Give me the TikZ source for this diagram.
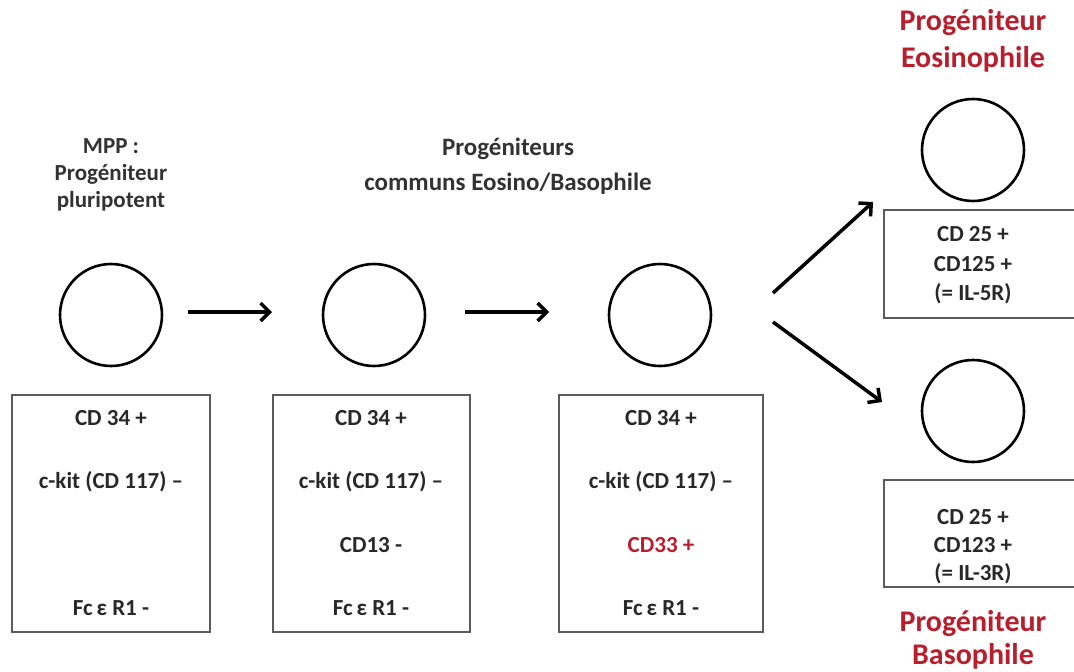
\documentclass[tikz,border=0pt]{standalone}
\usepackage{fontspec}
\setmainfont{Carlito}
\usetikzlibrary{arrows.meta}
\definecolor{redlab}{RGB}{185,30,45}
\definecolor{greylab}{RGB}{50,50,50}
\definecolor{boxline}{RGB}{90,90,90}
\tikzset{
  cell/.style={circle, draw=black, line width=2.6pt, minimum size=102pt, inner sep=0pt},
  markerbox/.style={draw=boxline, line width=1.8pt, inner sep=0pt},
  boxtext/.style={font=\fontsize{23}{27}\selectfont\bfseries, text=greylab!80!black, anchor=center, inner sep=0pt},
  toplab/.style={font=\fontsize{23}{27}\selectfont\bfseries, text=greylab, align=center, inner sep=0pt},
  redtitle/.style={font=\fontsize{30}{37}\selectfont\bfseries, text=redlab, anchor=base, inner sep=0pt},
  flow/.style={line width=3.5pt, -{Straight Barb[length=9pt,width=18pt,line width=3.5pt]}}
}
\begin{document}
\begin{tikzpicture}[x=1pt,y=-1pt]
\useasboundingbox (0,0) rectangle (1074,672);
% circles
\node[cell] (c1) at (111,315) {};
\node[cell] (c2) at (374,315) {};
\node[cell] (c3) at (660,315) {};
\node[cell] (ce) at (973,150) {};
\node[cell] (cb) at (973,411) {};
% boxes
\path[markerbox] (12,395) rectangle (210,632);
\path[markerbox] (273,395) rectangle (470,632);
\path[markerbox] (559,395) rectangle (763,632);
\path[markerbox] (1090,210) -- (884,210) -- (884,318) -- (1090,318);
\path[markerbox] (1090,480) -- (884,480) -- (884,587) -- (1090,587);
% box 1 text
\node[boxtext] (b1a) at (111,418) {CD 34 +};
\node[boxtext] (b1b) at (111,482) {c-kit (CD 117) –};
\node[boxtext] (b1d) at (111,608) {Fc\,ε R1 -};
% box 2 text
\node[boxtext] (b2a) at (371,418) {CD 34 +};
\node[boxtext] (b2b) at (371,482) {c-kit (CD 117) –};
\node[boxtext] (b2c) at (371,545) {CD13 -};
\node[boxtext] (b2d) at (371,608) {Fc\,ε R1 -};
% box 3 text
\node[boxtext] (b3a) at (661,418) {CD 34 +};
\node[boxtext] (b3b) at (661,482) {c-kit (CD 117) –};
\node[boxtext, text=redlab] (b3c) at (661,545) {CD33 +};
\node[boxtext] (b3d) at (661,608) {Fc\,ε R1 -};
% eos box text
\node[boxtext] (e1) at (973,234) {CD 25 +};
\node[boxtext] (e2) at (973,264) {CD125 +};
\node[boxtext] (e3) at (973,294) {(= IL-5R)};
% baso box text
\node[boxtext] (s1) at (973,517) {CD 25 +};
\node[boxtext] (s2) at (973,545) {CD123 +};
\node[boxtext] (s3) at (973,574) {(= IL-3R)};
% top labels
\node[toplab] (l1) at (111,175) {MPP :\\Progéniteur\\pluripotent};
\node[toplab, font=\fontsize{25}{35}\selectfont\bfseries] (l2) at (508,166) {Progéniteurs\\communs Eosino/Basophile};
\node[redtitle] (te1) at (973,30) {Progéniteur};
\node[redtitle] (te2) at (973,67) {Eosinophile};
\node[redtitle] (tb1) at (973,631) {Progéniteur};
\node[redtitle] (tb2) at (973,664) {Basophile};
% arrows
\coordinate (a1s) at (188,312);
\coordinate (a1e) at (272,312);
\coordinate (a2s) at (465,312);
\coordinate (a2e) at (549,312);
\coordinate (a3s) at (773,293);
\coordinate (a3e) at (873,202);
\coordinate (a4s) at (773,322);
\coordinate (a4e) at (882,402);
\draw[flow] (a1s) -- (a1e);
\draw[flow] (a2s) -- (a2e);
\draw[flow] (a3s) -- (a3e);
\draw[flow] (a4s) -- (a4e);
\end{tikzpicture}
\end{document}
